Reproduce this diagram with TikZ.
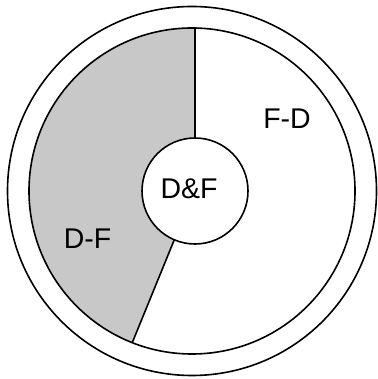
\documentclass[tikz,border=0pt]{standalone}
\usepackage{fontspec}
\setmainfont{Liberation Sans}
\usetikzlibrary{calc}

\definecolor{shadegray}{RGB}{200,200,200}

\begin{document}
\begin{tikzpicture}[
        x=1pt, y=1pt,
        line width=1.6pt,
        every node/.style={font=\fontsize{28.5}{32}\selectfont},
        ringline/.style={circle, draw, inner sep=0pt, outer sep=0pt}
      ]
      \useasboundingbox (0,0) rectangle (377,379);

      \coordinate (ringc) at (192,188);
      \coordinate (hubc) at (195,188);
      \coordinate (cuttop) at ($(hubc)+(0,163)$);
      \coordinate (cutlow) at ($(ringc)+(248.5:163)$);

      % shaded sector
      \fill[shadegray] ($(hubc)+(90:53)$) -- (cuttop)
        arc[start angle=88.9, end angle=248.5, radius=163pt]
        -- ($(hubc)+(247:53)$)
        arc[start angle=247, end angle=90, radius=53pt] -- cycle;

      \node[ringline, minimum size=369pt] (outer) at (ringc) {};
      \node[ringline, minimum size=326pt] (ring) at (ringc) {};
      \node[ringline, fill=white, minimum size=106pt] (hub) at (hubc) {};

      \draw (hub.north) -- (cuttop);
      \draw (hub.247) -- (cutlow);

      \node (fd) at (287,260) {F-D};
      \node (df) at (87.5,140.5) {D-F};
      \node (dnf) at (189,190) {D\&F};

    \end{tikzpicture}
\end{document}
